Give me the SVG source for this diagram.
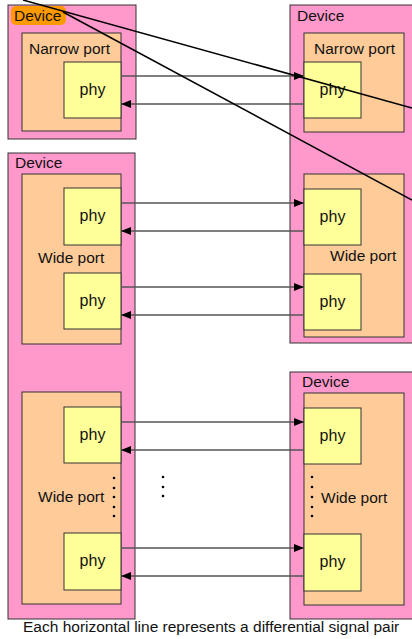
<svg xmlns="http://www.w3.org/2000/svg" width="412" height="639" viewBox="0 0 412 639">
<defs>
<style>
.dev{fill:#FF99CC;stroke:#333;stroke-width:1}
.port{fill:#FFCC99;stroke:#333;stroke-width:1}
.phy{fill:#FFFF99;stroke:#333;stroke-width:1}
text{font-family:"Liberation Sans",Arial,sans-serif;font-size:15.5px;fill:#111}
.c{text-anchor:middle;font-size:16px}
.wire{stroke:#555;stroke-width:1.3;fill:none}
.diag{stroke:#000;stroke-width:1.5;fill:none}
.dot{fill:#000}
</style>
<marker id="ah" viewBox="0 0 10 8" refX="10" refY="4" markerWidth="10" markerHeight="8" markerUnits="userSpaceOnUse" orient="auto">
<path d="M0,0 L10,4 L0,8 z" fill="#000"/>
</marker>
</defs>
<rect width="412" height="639" fill="#fff"/>

<g id="device-top-left">
<rect class="dev" x="8" y="5" width="128" height="134"/>
<rect x="11" y="6" width="55" height="19" rx="5" fill="#FF9900"/>
<text x="14" y="21">Device</text>
<g id="narrow-port-left">
<rect class="port" x="22" y="33" width="99" height="98"/>
<text x="29" y="54">Narrow port</text>
<g id="phy-l1"><rect class="phy" x="64" y="62" width="57" height="56"/><text class="c" x="92.5" y="95">phy</text></g>
</g>
</g>

<g id="device-mid-left">
<rect class="dev" x="8" y="153" width="127" height="466"/>
<text x="15" y="168">Device</text>
<g id="wide-port-left-1">
<rect class="port" x="22" y="174" width="99" height="170"/>
<text x="38" y="263">Wide port</text>
<g id="phy-l2"><rect class="phy" x="64" y="188" width="57" height="57"/><text class="c" x="92.5" y="221">phy</text></g>
<g id="phy-l3"><rect class="phy" x="64" y="273" width="57" height="56"/><text class="c" x="92.5" y="306">phy</text></g>
</g>
<g id="wide-port-left-2">
<rect class="port" x="22" y="392" width="99" height="212"/>
<text x="38" y="502">Wide port</text>
<g id="phy-l4"><rect class="phy" x="64" y="407" width="57" height="56"/><text class="c" x="92.5" y="440">phy</text></g>
<g id="phy-l5"><rect class="phy" x="64" y="533" width="57" height="57"/><text class="c" x="92.5" y="566">phy</text></g>
<circle class="dot" cx="114" cy="478" r="1.3"/>
<circle class="dot" cx="114" cy="488" r="1.3"/>
<circle class="dot" cx="114" cy="497" r="1.3"/>
<circle class="dot" cx="114" cy="507" r="1.3"/>
<circle class="dot" cx="114" cy="516" r="1.3"/>
</g>
</g>

<g id="device-top-right">
<rect class="dev" x="290" y="5" width="130" height="338"/>
<text x="297" y="21">Device</text>
<g id="narrow-port-right">
<rect class="port" x="304" y="33" width="100" height="99"/>
<text x="314" y="54">Narrow port</text>
<g id="phy-r1"><rect class="phy" x="304" y="62" width="57" height="56"/><text class="c" x="332.5" y="95">phy</text></g>
</g>
<g id="wide-port-right-1">
<rect class="port" x="304" y="174" width="100" height="163"/>
<text x="330" y="261">Wide port</text>
<g id="phy-r2"><rect class="phy" x="304" y="189" width="57" height="56"/><text class="c" x="332.5" y="222">phy</text></g>
<g id="phy-r3"><rect class="phy" x="304" y="274" width="57" height="56"/><text class="c" x="332.5" y="307">phy</text></g>
</g>
</g>

<g id="device-bottom-right">
<rect class="dev" x="290" y="372" width="130" height="247"/>
<text x="302" y="387">Device</text>
<g id="wide-port-right-2">
<rect class="port" x="304" y="393" width="100" height="212"/>
<text x="321" y="503">Wide port</text>
<g id="phy-r4"><rect class="phy" x="304" y="408" width="57" height="56"/><text class="c" x="332.5" y="441">phy</text></g>
<g id="phy-r5"><rect class="phy" x="304" y="534" width="57" height="57"/><text class="c" x="332.5" y="567">phy</text></g>
<circle class="dot" cx="312" cy="477" r="1.3"/>
<circle class="dot" cx="312" cy="487" r="1.3"/>
<circle class="dot" cx="312" cy="497" r="1.3"/>
<circle class="dot" cx="312" cy="507" r="1.3"/>
<circle class="dot" cx="312" cy="516" r="1.3"/>
</g>
</g>

<g id="connectors">
<line class="wire" x1="121" y1="76" x2="304" y2="76" marker-end="url(#ah)"/>
<line class="wire" x1="304" y1="104" x2="121" y2="104" marker-end="url(#ah)"/>
<line class="wire" x1="121" y1="203" x2="304" y2="203" marker-end="url(#ah)"/>
<line class="wire" x1="304" y1="231" x2="121" y2="231" marker-end="url(#ah)"/>
<line class="wire" x1="121" y1="287" x2="304" y2="287" marker-end="url(#ah)"/>
<line class="wire" x1="304" y1="315" x2="121" y2="315" marker-end="url(#ah)"/>
<line class="wire" x1="121" y1="422" x2="304" y2="422" marker-end="url(#ah)"/>
<line class="wire" x1="304" y1="450" x2="121" y2="450" marker-end="url(#ah)"/>
<line class="wire" x1="121" y1="548" x2="304" y2="548" marker-end="url(#ah)"/>
<line class="wire" x1="304" y1="576" x2="121" y2="576" marker-end="url(#ah)"/>
<line class="diag" x1="23" y1="0" x2="412" y2="108"/>
<line class="diag" x1="63" y1="12" x2="412" y2="200"/>
</g>

<g id="middle-dots">
<circle class="dot" cx="163" cy="477" r="1.3"/>
<circle class="dot" cx="163" cy="487" r="1.3"/>
<circle class="dot" cx="163" cy="496" r="1.3"/>
</g>

<text id="caption" x="23" y="632">Each horizontal line represents a differential signal pair</text>
</svg>
